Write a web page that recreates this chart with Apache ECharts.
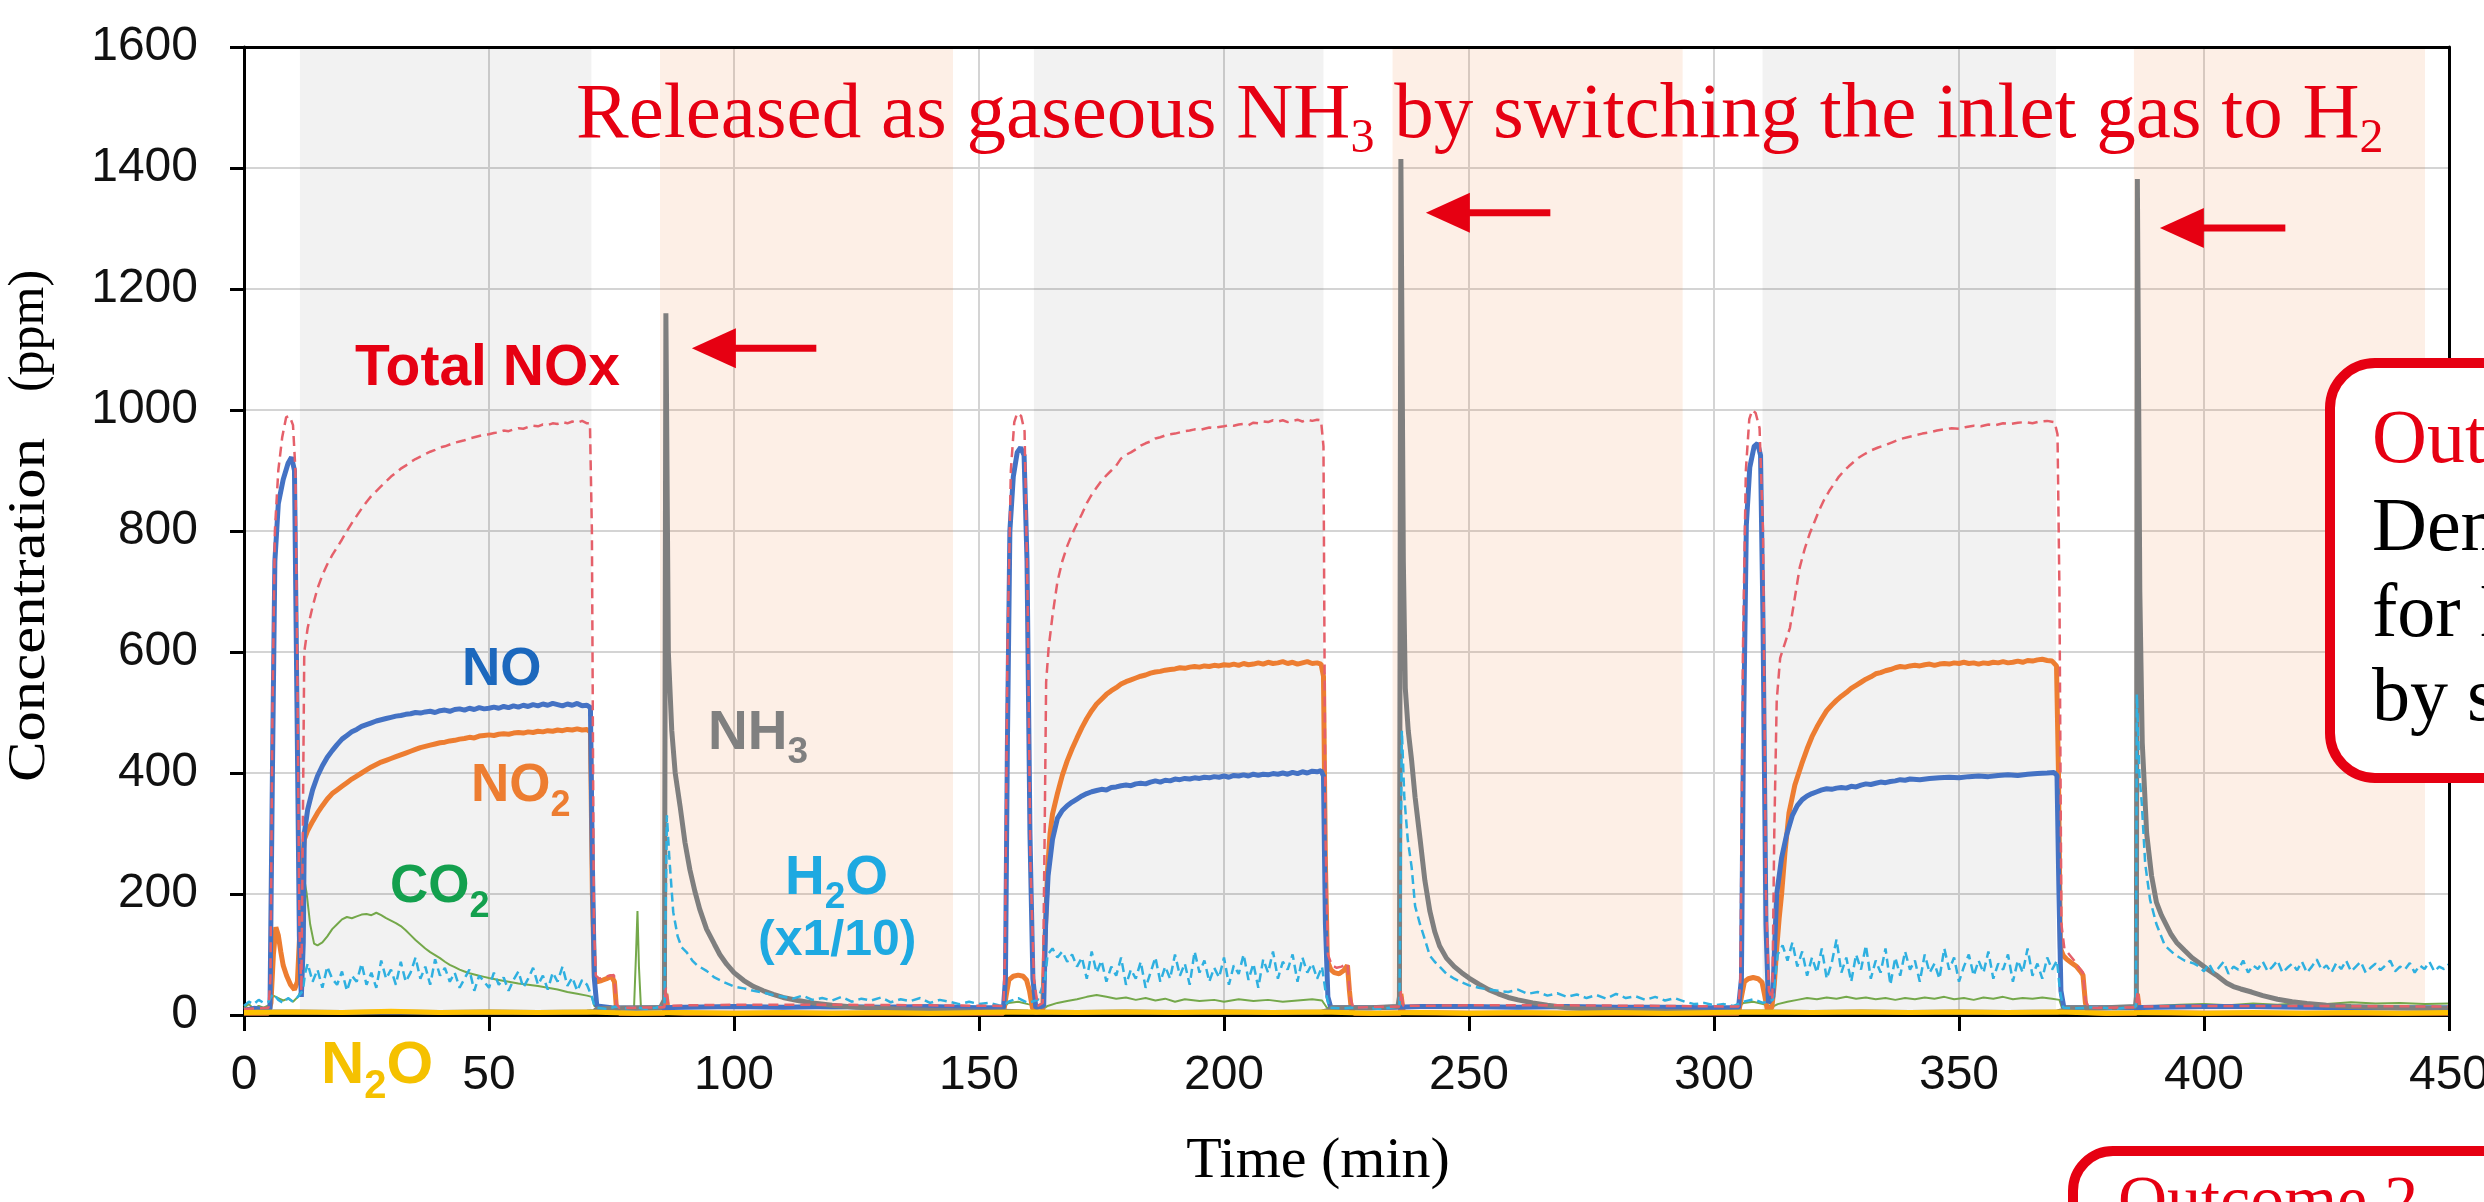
<!DOCTYPE html>
<html><head><meta charset="utf-8">
<script src="https://cdn.jsdelivr.net/npm/echarts@6/dist/echarts.min.js"></script>
<style>html,body{margin:0;padding:0;background:#fff;}#c{width:2484px;height:1202px;}</style>
</head><body><div id="c"></div>
<script>
// ---------- axes ----------
const xTicks = [0,50,100,150,200,250,300,350,400,450];
const yTicks = [0,200,400,600,800,1000,1200,1400,1600];
// ---------- phase bands (min) ----------
const greyBands  = [[11.4,70.9],[161.2,220.3],[309.9,369.8]];
const peachBands = [[84.9,144.7],[234.4,293.6],[385.7,445.1]];
// ---------- series [time (min), ppm] ----------
const noData = [[0,8],[2,11],[4,9],[5.3,10],[5.8,400],[6.3,750],[7,845],[8,885],[9,912],[9.7,922],[10.3,900],[10.8,520],[11.3,130],[11.7,30],[12.1,120],[12.3,300],[13,340],[14,372],[15,395],[16,412],[17,426],[18,437],[19,447],[20,456],[21,462],[22,468],[23,472],[24,477],[25,480],[26,483],[27,486],[28,488],[29,490],[30,492],[31,494],[32,495],[33,497],[34,498],[35,500],[36,499],[37,501],[38,502],[39,500],[40,503],[41,504],[42,502],[43,505],[44,506],[45,504],[46,507],[47,505],[48,508],[49,506],[50,507],[51,509],[52,507],[53,510],[54,508],[55,511],[56,509],[57,512],[58,510],[59,513],[60,511],[61,514],[62,512],[63,515],[64,513],[65,511],[66,514],[67,512],[68,515],[69,511],[70,512],[70.7,508],[71.1,250],[71.5,60],[72,15],[75,12],[80,11],[85,12],[90,13],[100,14],[110,13],[120,14],[130,13],[140,14],[150,12],[155,12],
[155.4,60],[155.8,450],[156.3,800],[157,890],[157.8,930],[158.5,938],[159.2,925],[159.8,750],[160.4,300],[161,60],[161.6,12],[163.2,15],[163.6,150],[164.1,230],[165,290],[166,325],[167,338],[168,346],[169,352],[170,357],[171,362],[172,366],[173,369],[174,371],[175,373],[176,372],[177,376],[178,377],[179,379],[180,380],[181,379],[182,382],[183,383],[184,382],[185,385],[186,387],[187,385],[188,388],[189,387],[190,390],[191,389],[192,391],[193,390],[194,392],[195,391],[196,393],[197,392],[198,394],[199,393],[200,395],[201,393],[202,396],[203,395],[204,397],[205,395],[206,398],[207,396],[208,398],[209,397],[210,399],[211,398],[212,400],[213,398],[214,401],[215,399],[216,402],[217,400],[218,403],[219,402],[219.8,404],[220.3,395],[220.7,150],[221.2,30],[221.8,12],[225,12],[230,12],[235,13],[240,14],[250,14],[260,13],[270,14],[280,13],[290,13],[300,12],[305,12],
[305.6,60],[306,450],[306.6,810],[307.3,905],[308.2,940],[308.9,945],[309.5,925],[310,650],[310.6,150],[311.1,20],[312,30],[312.4,120],[312.8,200],[313.8,260],[314.8,297],[316,330],[317,346],[318,356],[319,362],[320,366],[321,369],[322,372],[323,374],[324,373],[325,375],[326,376],[327,375],[328,378],[329,377],[330,380],[331,382],[332,381],[333,383],[334,385],[335,384],[336,386],[337,387],[338,389],[339,388],[340,390],[342,389],[344,391],[346,392],[348,393],[350,392],[352,394],[354,395],[356,394],[358,396],[360,397],[362,396],[364,398],[366,399],[368,400],[369.4,401],[370,396],[370.4,200],[370.8,40],[371.4,12],[375,12],[380,12],[385,12],[390,13],[400,14],[410,14],[420,13],[430,12],[440,12],[450,12]];

const no2Data = [[0,3],[5,3],[5.5,20],[6,100],[6.5,145],[7,132],[7.5,105],[8,82],[8.7,65],[9.5,50],[10.3,42],[10.9,55],[11.4,140],[11.9,250],[12.3,290],[13,305],[14,320],[15,334],[16,346],[17,357],[18,366],[19,372],[20,378],[21,384],[22,390],[23,395],[24,400],[25,405],[26,410],[27,414],[28,418],[29,421],[30,424],[31,427],[32,430],[33,433],[34,436],[35,439],[36,442],[37,444],[38,446],[39,448],[40,450],[41,451],[42,453],[43,454],[44,456],[45,457],[46,459],[47,458],[48,461],[49,462],[50,463],[51,462],[52,464],[53,465],[54,464],[55,466],[56,467],[57,466],[58,468],[59,467],[60,469],[61,468],[62,470],[63,469],[64,471],[65,470],[66,472],[67,471],[68,473],[69,471],[70,472],[70.7,468],[71.1,200],[71.5,62],[72,55],[73,57],[74,60],[75,64],[75.6,55],[76,12],[76.6,3],[80,3],[85.8,3],[86.1,35],[86.6,4],[90,3],[100,3],[120,3],[140,3],[155,3],
[155.5,30],[156.1,58],[157,64],[158,66],[159,64],[159.7,58],[160.3,40],[160.9,12],[161.5,4],[163,6],[163.4,110],[164,240],[164.5,300],[165,332],[166,366],[167,396],[168,420],[169,440],[170,458],[171,475],[172,490],[173,503],[174,514],[175,522],[176,530],[177,536],[178,541],[179,547],[180,551],[181,554],[182,557],[183,560],[184,562],[185,565],[186,567],[187,568],[188,570],[189,571],[190,572],[191,574],[192,573],[193,575],[194,576],[195,575],[196,577],[197,576],[198,578],[199,577],[200,579],[201,578],[202,580],[203,578],[204,581],[205,579],[206,580],[207,582],[208,580],[209,583],[210,581],[211,582],[212,584],[213,581],[214,583],[215,580],[216,582],[217,584],[218,581],[219,582],[219.8,580],[220.3,560],[220.7,250],[221.1,90],[221.8,75],[222.5,70],[223.5,68],[224.5,74],[225.2,82],[225.6,40],[226,8],[226.6,3],[230,3],[236,3],[236.1,35],[236.6,4],[250,3],[280,3],[305,3],
[305.6,30],[306.2,55],[307,60],[308,62],[309,60],[309.8,54],[310.4,30],[310.9,8],[311.8,12],[312.3,50],[312.8,110],[313.3,160],[313.8,200],[314.5,270],[315.3,334],[316.5,380],[317.9,415],[319,440],[320,460],[321,476],[322,490],[323,503],[324,512],[325,520],[326,527],[327,533],[328,540],[329,545],[330,550],[331,555],[332,559],[333,564],[334,566],[335,569],[336,571],[337,574],[338,576],[339,575],[340,577],[341,578],[342,577],[343,579],[344,580],[345,578],[346,580],[347,581],[348,580],[349,582],[350,581],[351,583],[352,581],[353,582],[354,580],[355,582],[356,581],[357,583],[358,582],[359,584],[360,582],[361,583],[362,585],[363,583],[364,586],[365,585],[366,587],[367,588],[368,586],[369,585],[369.9,577],[370.3,400],[370.7,110],[371.3,98],[372,92],[373,86],[374,80],[374.8,72],[375.3,66],[375.8,20],[376.3,4],[380,3],[386.2,3],[386.4,35],[386.9,4],[400,3],[420,3],[450,3]];

const noxData = [[0,10],[5,12],[5.4,60],[5.8,500],[6.3,800],[7,900],[7.8,955],[8.6,988],[9.3,990],[10,975],[10.5,900],[10.9,550],[11.3,150],[11.7,40],[12,300],[12.3,600],[13,640],[14,675],[15,705],[16,727],[17,745],[18,760],[19,773],[20,786],[21,800],[22,813],[23,825],[24,837],[25,848],[26,858],[27,866],[28,874],[29,882],[30,890],[31,896],[32,903],[33,908],[34,914],[35,919],[36,923],[37,927],[38,931],[39,934],[40,938],[41,940],[42,943],[43,946],[44,948],[45,950],[46,953],[47,955],[48,957],[49,959],[50,960],[51,962],[52,963],[53,966],[54,965],[55,968],[56,970],[57,969],[58,972],[59,974],[60,973],[61,976],[62,975],[63,978],[64,977],[65,980],[66,978],[67,981],[68,979],[69,982],[70,978],[70.6,978],[71,800],[71.4,150],[71.8,65],[72.5,60],[73.5,62],[74.5,65],[75.5,66],[76,18],[76.6,12],[80,12],[85.8,13],[86.1,45],[86.6,15],[90,16],[100,17],[120,17],[140,16],[155,15],
[155.3,100],[155.8,600],[156.5,900],[157.2,980],[157.8,995],[158.6,990],[159.3,965],[159.9,700],[160.5,250],[161.2,60],[162,15],[163,20],[163.4,300],[163.7,550],[164.2,606],[165,660],[166,716],[167,750],[168,775],[169,795],[170,812],[171,828],[172,846],[173,860],[174,872],[175,883],[176,892],[177,900],[178,908],[179,920],[180,926],[181,930],[182,935],[183,941],[184,945],[185,948],[186,953],[187,955],[188,958],[189,960],[190,961],[191,963],[192,965],[193,966],[194,968],[195,967],[196,969],[197,971],[198,970],[199,972],[200,973],[201,975],[202,974],[203,976],[204,977],[205,975],[206,979],[207,978],[208,981],[209,980],[210,983],[211,981],[212,983],[213,980],[214,982],[215,984],[216,981],[217,984],[218,982],[219,984],[219.8,983],[220.3,940],[220.7,300],[221.2,100],[222,82],[223,78],[224,80],[225.2,85],[225.7,30],[226.4,12],[230,13],[236,14],[236.1,40],[236.6,15],[250,16],[270,16],[290,15],[305,14],
[305.4,60],[305.9,600],[306.5,900],[307.2,985],[307.8,1000],[308.5,995],[309.3,970],[310,800],[310.6,200],[311.2,40],[311.9,25],[312.3,300],[312.8,520],[313.5,590],[314.5,615],[315.5,640],[316.5,690],[317.5,740],[318.5,770],[319.5,795],[320.5,815],[321.5,835],[322.5,852],[323.5,866],[324.5,878],[325.5,890],[326.5,899],[327.5,907],[328.5,914],[329.5,921],[330.5,926],[332,933],[333.5,938],[335,942],[336.5,947],[338,952],[339.5,955],[341,958],[342.5,961],[344,963],[345.5,966],[347,968],[348.5,970],[350,969],[351.5,972],[353,974],[354.5,973],[356,976],[357.5,975],[359,978],[360.5,977],[362,979],[363.5,980],[365,978],[366.5,981],[368,982],[369.5,980],[370.1,960],[370.5,700],[370.9,150],[371.5,110],[372.5,100],[373.5,90],[374.5,78],[375.3,70],[375.8,25],[376.5,12],[380,12],[386.2,13],[386.4,40],[386.9,14],[400,15],[420,15],[450,14]];

const nh3Data = [[0,5],[10,5],[20,4],[30,5],[40,4],[50,5],[60,4],[70,5],[71.5,6],[72,10],[75,11],[80,12],[85,12],[85.8,25],[86.1,1160],[86.6,600],[87.3,470],[88,400],[89,345],[90,285],[91,240],[92,205],[93,175],[94.4,142],[96,117],[97.1,100],[98.5,84],[100,70],[102,57],[104,47],[106,40],[108,34],[110,29],[113,24],[116,20],[120,16],[125,13],[130,11],[135,9],[140,8],[145,7],[150,6],[155,6],[160,5],[170,4],[180,5],[190,4],[200,5],[210,4],[220,5],[221.5,8],[222,12],[226,12],[230,12],[235.5,14],[235.8,30],[236.1,1415],[236.6,750],[237,540],[237.6,470],[238.3,420],[239,360],[240,292],[241,222],[242,172],[243,138],[244,114],[245.4,94],[247,80],[248.5,70],[250,61],[252,51],[254,42],[256,35],[258,29],[260,25],[263,20],[266,16],[270,12],[275,10],[280,8],[290,6],[300,5],[310,5],[320,4],[330,5],[340,4],[350,5],[360,4],[370,5],[371.5,8],[372,12],[376,12],[380,12],[386,14],[386.2,30],[386.4,1382],[386.9,700],[387.4,450],[388.3,300],[389.3,230],[390.3,186],[391.3,165],[392.3,149],[393.3,133],[394.4,120],[396,107],[397.5,95],[399.5,83],[401,74],[402.5,66],[404.6,53],[406,47],[407.5,43],[409.7,38],[412,32],[415,26],[418,22],[421,19],[425,16],[430,14],[435,13],[440,12],[445,11],[450,11]];

const h2oData = [[0,15],[1,22],[2,18],[3,25],[4,20],[5,22],[5.5,30],[6,35],[7,25],[8,20],[9,28],[10,22],[11,30],[12,40],[12.5,70],[13,85],[14,55],[15,75],[16,45],[17,80],[18,60],[19,50],[20,72],[21,40],[22,65],[23,55],[24,85],[25,50],[26,70],[27,45],[28,90],[29,60],[30,75],[31,50],[32,88],[33,55],[34,70],[35,95],[36,60],[37,80],[38,50],[39,92],[40,65],[41,78],[42,55],[43,70],[44,45],[45,60],[46,75],[47,40],[48,65],[49,55],[50,45],[51,70],[52,50],[53,62],[54,40],[55,58],[56,72],[57,45],[58,60],[59,78],[60,50],[61,65],[62,42],[63,70],[64,55],[65,80],[66,48],[67,62],[68,40],[69,58],[70,50],[71,30],[71.5,15],[72,12],[74,10],[76,14],[78,11],[80,13],[82,10],[84,12],[85.8,15],[86.1,200],[86.3,330],[86.8,260],[87.6,170],[88.5,130],[89.3,112],[90.3,104],[91.5,90],[92.5,82],[94.4,73],[96,62],[98,54],[100,47],[102,44],[104,40],[106,37],[108,33],[110,30],[112,27],[114,32],[116,25],[118,28],[120,24],[122,30],[124,22],[126,27],[128,24],[130,29],[132,21],[134,26],[136,23],[138,28],[140,20],[142,25],[144,22],[146,18],[148,22],[150,18],[152,20],[154,16],[155,15],[156,22],[158,28],[160,20],[162,25],
[163.5,60],[164,100],[165,110],[166,95],[167,105],[168,88],[169,100],[170,80],[171,95],[172,60],[173,105],[174,70],[175,90],[176,55],[177,80],[178,65],[179,95],[180,50],[181,75],[182,60],[183,88],[184,45],[185,70],[186,95],[187,55],[188,80],[189,60],[190,100],[191,65],[192,85],[193,50],[194,105],[195,70],[196,90],[197,55],[198,78],[199,62],[200,95],[201,50],[202,82],[203,68],[204,100],[205,58],[206,85],[207,45],[208,92],[209,70],[210,105],[211,60],[212,88],[213,75],[214,100],[215,55],[216,95],[217,70],[218,85],[219,60],[220,80],[220.7,40],[221.5,12],[224,11],[228,13],[232,10],[235.8,14],[236.1,300],[236.3,470],[236.8,360],[237.5,290],[238.3,244],[239,180],[240,150],[241,125],[242,98],[243,88],[244,80],[245.4,68],[247,60],[248.5,54],[250,49],[252,45],[254,42],[256,40],[258,38],[260,42],[262,35],[264,38],[266,32],[268,36],[270,30],[272,34],[274,28],[276,33],[278,27],[280,35],[282,28],[284,31],[286,25],[288,30],[290,24],[292,28],[294,22],[296,18],[298,20],[300,16],[302,18],[304,15],[306,22],[308,26],[310,20],[312,25],
[312.5,60],[313,100],[314,115],[315,90],[316,120],[317,80],[318,105],[319,65],[320,95],[321,70],[322,110],[323,60],[324,85],[325,125],[326,70],[327,95],[328,55],[329,100],[330,75],[331,115],[332,60],[333,90],[334,70],[335,110],[336,50],[337,95],[338,65],[339,105],[340,75],[341,90],[342,55],[343,100],[344,70],[345,85],[346,60],[347,110],[348,75],[349,95],[350,55],[351,80],[352,100],[353,65],[354,90],[355,70],[356,105],[357,60],[358,85],[359,75],[360,100],[361,55],[362,90],[363,70],[364,110],[365,65],[366,85],[367,60],[368,95],[369,75],[370,90],[370.6,40],[371.3,12],[374,11],[378,13],[382,10],[386.1,14],[386.3,530],[386.8,400],[387.3,350],[388,250],[389,190],[390.3,150],[392,115],[394,100],[396,90],[398,85],[399,80],[400,72],[401,85],[402,70],[403,78],[404,88],[405,68],[406,80],[407,75],[408,90],[409,70],[410,82],[411,76],[412,88],[413,72],[414,80],[415,90],[416,70],[417,78],[418,85],[419,74],[420,88],[421,70],[422,80],[423,92],[424,75],[425,82],[426,70],[427,86],[428,76],[429,90],[430,72],[431,80],[432,88],[433,70],[434,78],[435,85],[436,74],[437,82],[438,90],[439,72],[440,80],[441,75],[442,86],[443,70],[444,82],[445,76],[446,88],[447,72],[448,80],[449,76],[450,84]];

const co2Data = [[0,12],[1,18],[2,10],[3,15],[4,12],[5,16],[5.5,25],[6,32],[7,28],[8,24],[9,27],[10,22],[11,30],[11.6,40],[12,120],[12.4,220],[12.8,200],[13.5,150],[14.3,118],[15,115],[16,120],[17,130],[18,142],[19,150],[20,158],[21,162],[22,160],[23,163],[24,166],[25,167],[26,165],[27,169],[28,165],[29,160],[30,156],[31,152],[32,147],[33,140],[34,132],[35,124],[36,117],[37,110],[38,104],[39,99],[40,94],[41,88],[42,83],[43,79],[44,75],[45,72],[46,69],[47,67],[48,65],[49,63],[50,61],[52,58],[54,55],[56,52],[58,50],[60,48],[62,45],[64,42],[66,38],[68,35],[70,32],[71,30],[71.5,15],[73,12],[76,10],[79.6,12],[80,100],[80.3,172],[80.6,80],[81,14],[83,11],[85.8,12],[86.1,40],[86.6,14],[90,12],[95,14],[100,12],[110,13],[120,11],[130,12],[140,11],[150,12],[155,12],[156,20],[158,22],[160,18],[162,15],[163.5,12],[164,15],[166,20],[168,23],[170,26],[172,30],[174,33],[176,30],[178,27],[180,29],[182,25],[184,28],[186,24],[188,27],[190,22],[192,26],[195,23],[198,25],[200,22],[203,26],[206,23],[209,25],[212,22],[215,24],[218,26],[220,24],[221,12],[225,11],[230,12],[236,12],[236.1,35],[236.6,13],[240,12],[250,14],[260,12],[270,13],[280,12],[290,13],[300,12],[305,12],[306,20],[308,22],[310,18],[312,14],[313,18],[315,22],[317,25],[319,28],[321,26],[323,29],[325,27],[327,30],[329,27],[331,29],[333,26],[335,28],[337,25],[339,28],[341,26],[343,29],[345,27],[347,30],[349,26],[351,28],[353,25],[355,29],[357,27],[359,30],[361,26],[363,28],[365,27],[367,29],[369,27],[370.5,25],[371,12],[375,11],[380,12],[386.2,12],[386.4,35],[386.9,13],[390,15],[395,17],[400,18],[405,16],[410,19],[415,17],[420,20],[425,18],[430,21],[435,19],[440,20],[445,18],[450,19]];

const n2oData = [[0,4],[10,5],[20,4],[30,6],[40,4],[50,5],[60,4],[70,5],[80,3],[90,4],[100,3],[110,4],[120,3],[130,4],[140,3],[150,4],[160,5],[170,4],[180,5],[190,4],[200,5],[210,4],[220,5],[230,3],[240,4],[250,3],[260,4],[270,3],[280,4],[290,3],[300,4],[310,5],[320,4],[330,5],[340,4],[350,5],[360,4],[370,5],[380,3],[390,4],[400,3],[410,4],[420,3],[430,4],[440,3],[450,4]];

// ---------- annotation anchors (data coords) ----------
const arrowTips  = [[91.4,1102],[241.2,1326],[391.0,1301]];
const arrowTails = [[116.8,1102],[266.6,1326],[416.6,1301]];

const SANS = "'Liberation Sans', Arial, sans-serif";
const SERIF = "'Liberation Serif', 'Times New Roman', serif";

const chart = echarts.init(document.getElementById('c'), null, {renderer:'canvas'});

function lineSeries(name, data, color, width, type, z){
  return {name, type:'line', data, showSymbol:false, symbol:'none', smooth:false, z,
    lineStyle:{color, width, type: type || 'solid'}, emphasis:{disabled:true}, silent:true, animation:false};
}

const bandSeries = {
  type:'line', data:[[0,0]], showSymbol:false, symbol:'none', lineStyle:{opacity:0}, z:1, silent:true,
  markArea:{silent:true, data:
    greyBands.map(b=>[{xAxis:b[0], itemStyle:{color:'rgba(0,0,0,0.05)'}},{xAxis:b[1]}])
    .concat(peachBands.map(b=>[{xAxis:b[0], itemStyle:{color:'rgba(237,125,49,0.12)'}},{xAxis:b[1]}]))
  }
};

const frameAxis = {show:true, axisLine:{show:true, onZero:false, lineStyle:{color:'#000', width:3}}, axisTick:{show:false}, axisLabel:{show:false}, splitLine:{show:false}, z:10};

chart.setOption({
  animation:false,
  backgroundColor:'#ffffff',
  grid:{left:244, top:47, width:2205, height:968, show:false, outerBoundsMode:'none', containLabel:false},
  xAxis:[{type:'value', min:xTicks[0], max:xTicks[xTicks.length-1], interval:50,
    axisLine:{show:true, onZero:false, lineStyle:{color:'#000', width:3}},
    axisTick:{show:true, inside:false, length:16, lineStyle:{color:'#000', width:3}},
    axisLabel:{show:true, margin:37, fontSize:48, fontFamily:SANS, color:'#111', formatter:v=>String(v), showMinLabel:true, showMaxLabel:true, hideOverlap:false},
    splitLine:{show:true, lineStyle:{color:'#d4d4d4', width:2}}},
    Object.assign({type:'value', position:'top', min:xTicks[0], max:xTicks[xTicks.length-1]}, frameAxis)],
  yAxis:[{type:'value', min:yTicks[0], max:yTicks[yTicks.length-1], interval:200,
    axisLine:{show:true, onZero:false, lineStyle:{color:'#000', width:3}},
    axisTick:{show:true, inside:false, length:14, lineStyle:{color:'#000', width:3}},
    axisLabel:{show:true, margin:46, fontSize:48, fontFamily:SANS, color:'#111', formatter:v=>String(v), showMinLabel:true, showMaxLabel:true, hideOverlap:false},
    splitLine:{show:true, lineStyle:{color:'#d4d4d4', width:2}}},
    Object.assign({type:'value', position:'right', min:yTicks[0], max:yTicks[yTicks.length-1]}, frameAxis)],
  series:[
    bandSeries,
    lineSeries('CO2', co2Data, '#74A84A', 2, 'solid', 3),
    lineSeries('NO2', no2Data, '#ED7D31', 5, 'solid', 4),
    lineSeries('NO', noData, '#4472C4', 5, 'solid', 5),
    lineSeries('NH3', nh3Data, '#7F7F7F', 5, 'solid', 6),
    lineSeries('H2O', h2oData, '#2FB0E0', 2.5, [9,5], 7),
    lineSeries('NOx', noxData, '#E5606A', 2.5, [10,6], 8),
    lineSeries('N2O', n2oData, '#FFC000', 5, 'solid', 9)
  ]
});

// ---------- text helpers ----------
const mctx = document.createElement('canvas').getContext('2d');
function tw(t, weight, size, family){ mctx.font = weight+' '+size+'px '+family; return mctx.measureText(t).width; }
function pieces(x, base, list, family, weight, color, ratio, z){
  const els = []; let cx = x;
  for (const [t, size, dy] of list){
    els.push({type:'text', x:cx, y:base+dy-ratio*size, z:z||100, silent:true,
      style:{text:t, fontSize:size, fontFamily:family, fontWeight:weight, fill:color, align:'left', verticalAlign:'middle'}});
    cx += tw(t, weight, size, family);
  }
  return els;
}
const SR = 0.33, RR = 0.32;

let g = [];
// top red annotation
g = g.concat(pieces(576, 142, [['Released as gaseous NH',79,0],['3',48,13],[' by switching the inlet gas to H',79,0],['2',48,13]], SERIF, 'normal', '#E60012', RR));
// series labels
g = g.concat(pieces(355, 388, [['Total NOx',57,0]], SANS, 'bold', '#E60012', SR));
g = g.concat(pieces(462, 688, [['NO',53,0]], SANS, 'bold', '#1C68BD', SR));
g = g.concat(pieces(471, 804, [['NO',53,0],['2',36,14]], SANS, 'bold', '#ED7D31', SR));
g = g.concat(pieces(390, 905, [['CO',53,0],['2',36,14]], SANS, 'bold', '#13A04E', SR));
g = g.concat(pieces(708, 752, [['NH',55,0],['3',37,13]], SANS, 'bold', '#808080', SR));
g = g.concat(pieces(785, 897, [['H',55,0],['2',37,13],['O',55,0]], SANS, 'bold', '#1EA9E1', SR));
g = g.concat(pieces(758, 958, [['(x1/10)',50,0]], SANS, 'bold', '#1EA9E1', SR));
g = g.concat(pieces(321, 1086, [['N',60,0],['2',40,14],['O',60,0]], SANS, 'bold', '#F5C100', SR));
// axis titles (y title: letter-spaced word + unit)
const wConc = tw('Concentration', 'normal', 52, SERIF);
g.push({type:'text', x:30, y:610, rotation:Math.PI/2, scaleX:344/wConc, z:100, silent:true,
  style:{text:'Concentration', fontSize:52, fontFamily:SERIF, fill:'#000', align:'center', verticalAlign:'middle'}});
g.push({type:'text', x:30, y:331, rotation:Math.PI/2, z:100, silent:true,
  style:{text:'(ppm)', fontSize:50, fontFamily:SERIF, fill:'#000', align:'center', verticalAlign:'middle'}});
g.push({type:'text', x:1318, y:1180-0.32*58, z:100, silent:true,
  style:{text:'Time (min)', fontSize:58, fontFamily:SERIF, fill:'#000', align:'center', verticalAlign:'middle'}});
// arrows
arrowTips.forEach((tip,i)=>{
  const p = chart.convertToPixel({gridIndex:0}, tip);
  const q = chart.convertToPixel({gridIndex:0}, arrowTails[i]);
  g.push({type:'polygon', z:60, silent:true, shape:{points:[[p[0],p[1]],[p[0]+44,p[1]-20],[p[0]+44,p[1]+20]]}, style:{fill:'#E60012'}});
  g.push({type:'line', z:60, silent:true, shape:{x1:p[0]+40, y1:p[1], x2:q[0], y2:q[1]}, style:{stroke:'#E60012', lineWidth:7}});
});
// outcome callout boxes (partly outside the picture)
g.push({type:'rect', z:200, silent:true, shape:{x:2330, y:363, width:500, height:415, r:45}, style:{fill:'#fff', stroke:'#E60012', lineWidth:10}});
g = g.concat(pieces(2372, 466, [['Outcome 1',76,0]], SERIF, 'normal', '#E60012', RR, 201));
g = g.concat(pieces(2372, 554, [['Demonstrated',76,0]], SERIF, 'normal', '#000', RR, 201));
g = g.concat(pieces(2372, 640, [['for NH',76,0]], SERIF, 'normal', '#000', RR, 201));
g = g.concat(pieces(2372, 724, [['by switching',76,0]], SERIF, 'normal', '#000', RR, 201));
g.push({type:'rect', z:200, silent:true, shape:{x:2073, y:1151, width:600, height:250, r:40}, style:{fill:'#fff', stroke:'#E60012', lineWidth:10}});
g = g.concat(pieces(2118, 1226, [['Outcome 2',68,0]], SERIF, 'normal', '#E60012', RR, 201));

chart.setOption({graphic: g});
</script>
</body></html>
